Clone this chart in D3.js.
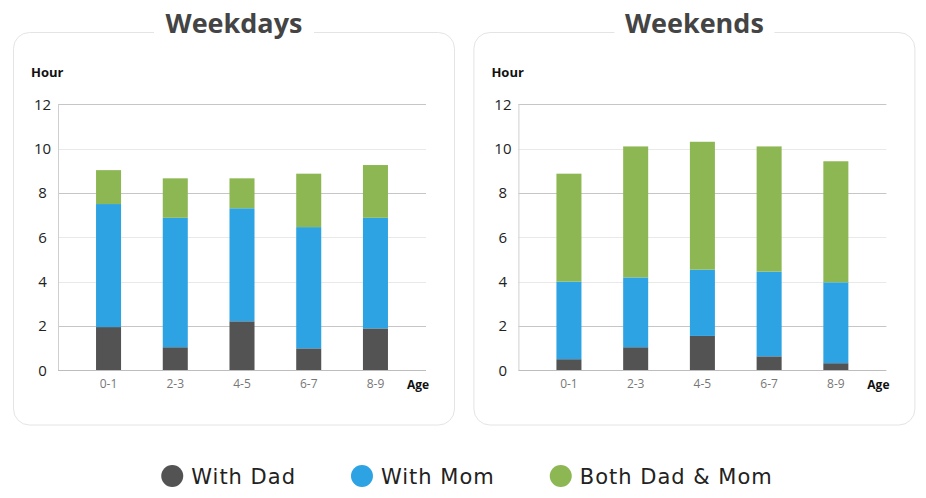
<!DOCTYPE html>
<html>
<head>
<meta charset="utf-8">
<script src="https://cdn.jsdelivr.net/npm/d3@7"></script>
<style>
  html, body { margin: 0; padding: 0; background: #fff; }
  svg { display: block; }
</style>
</head>
<body>
<svg id="chart" width="926" height="498"></svg>
<script>
// ---- data ----
const categories = ["0-1", "2-3", "4-5", "6-7", "8-9"];
const seriesNames = ["With Dad", "With Mom", "Both Dad & Mom"];
const weekdaysDad  = [1.95, 1.04, 2.21, 0.99, 1.89];
const weekdaysMom  = [5.55, 5.84, 5.10, 5.47, 4.99];
const weekdaysBoth = [1.53, 1.78, 1.35, 2.41, 2.38];
const weekendsDad  = [0.50, 1.04, 1.55, 0.63, 0.32];
const weekendsMom  = [3.50, 3.15, 2.99, 3.82, 3.65];
const weekendsBoth = [4.87, 5.91, 5.77, 5.65, 5.46];
const yTicks = [0, 2, 4, 6, 8, 10, 12];
const panelTitles = ["Weekdays", "Weekends"];
const yAxisTitle = "Hour";
const xAxisTitle = "Age";

// ---- styles ----
const colors = ["#535353", "#2ea3e3", "#8db753"];
const svg = d3.select("#chart");

const panels = [
  { title: panelTitles[0], series: [weekdaysDad, weekdaysMom, weekdaysBoth], dx: 0 },
  { title: panelTitles[1], series: [weekendsDad, weekendsMom, weekendsBoth], dx: 460.4 }
];

const y = d3.scaleLinear().domain([0, 12]).range([370.3, 104.3]);
const strongGrid = new Set([2, 8, 12]);

panels.forEach(p => {
  const g = svg.append("g").attr("transform", `translate(${p.dx},0)`);

  // panel box
  g.append("rect")
    .attr("x", 13.5).attr("y", 32.5).attr("width", 441).attr("height", 392.5)
    .attr("rx", 16).attr("ry", 16)
    .attr("fill", "#fff").attr("stroke", "#e4e4e4").attr("stroke-width", 1);

  // title
  const tcx = 234;
  g.append("rect")
    .attr("x", tcx - 80).attr("y", 20).attr("width", 160).attr("height", 20)
    .attr("fill", "#fff");
  g.append("text")
    .attr("x", tcx).attr("y", 33)
    .attr("text-anchor", "middle")
    .attr("font-family", "'Open Sans', sans-serif")
    .attr("font-weight", 700)
    .attr("font-size", 27)
    .attr("fill", "#444")
    .text(p.title);

  const x = d3.scaleBand().domain(categories).range([58, 426])
    .paddingInner(0.625).paddingOuter(0.57);

  // gridlines
  g.append("g").selectAll("line").data(yTicks.filter(t => t > 0)).join("line")
    .attr("x1", 58).attr("x2", 426)
    .attr("y1", d => Math.round(y(d)) + 0.5).attr("y2", d => Math.round(y(d)) + 0.5)
    .attr("stroke", d => strongGrid.has(d) ? "#c6c6c6" : "#e9e9e9")
    .attr("stroke-width", 1);

  // y axis (labels only through d3 axis)
  const yAxis = d3.axisLeft(y).tickValues(yTicks).tickSize(0).tickPadding(0);
  const ya = g.append("g").attr("transform", "translate(58,0)").call(yAxis);
  ya.select(".domain").remove();
  ya.selectAll("text")
    .attr("x", -15.5)
    .attr("text-anchor", "middle")
    .attr("font-family", "'Open Sans', sans-serif")
    .attr("font-size", 15)
    .attr("fill", "#222");

  // vertical axis line
  g.append("line")
    .attr("x1", 58.5).attr("x2", 58.5).attr("y1", y(12)).attr("y2", y(0))
    .attr("stroke", "#cfcfcf");

  // stacked bars
  const rows = categories.map((c, i) => {
    const r = { cat: c };
    seriesNames.forEach((s, k) => r[s] = p.series[k][i]);
    return r;
  });
  const stacked = d3.stack().keys(seriesNames)(rows);
  g.append("g").selectAll("g").data(stacked).join("g")
    .attr("fill", (d, i) => colors[i])
    .selectAll("rect").data(d => d).join("rect")
    .attr("x", d => x(d.data.cat))
    .attr("width", x.bandwidth())
    .attr("y", d => y(d[1]))
    .attr("height", d => y(d[0]) - y(d[1]));

  // baseline
  g.append("line")
    .attr("x1", 58).attr("x2", 426)
    .attr("y1", Math.round(y(0)) + 0.5).attr("y2", Math.round(y(0)) + 0.5)
    .attr("stroke", "#bdbdbd");

  // x axis labels
  const xAxis = d3.axisBottom(x).tickSize(0).tickPadding(0);
  const xa = g.append("g").attr("transform", `translate(0,${y(0)})`).call(xAxis);
  xa.select(".domain").remove();
  xa.selectAll("text")
    .attr("dy", 0).attr("y", 18)
    .attr("font-family", "'Open Sans', sans-serif")
    .attr("font-size", 12)
    .attr("fill", "#777");

  // axis titles
  g.append("text")
    .attr("x", 31).attr("y", 76.5)
    .attr("font-family", "'Open Sans', sans-serif")
    .attr("font-weight", 700).attr("font-size", 13)
    .attr("fill", "#111")
    .text(yAxisTitle);
  g.append("text")
    .attr("x", 418).attr("y", 388.5)
    .attr("text-anchor", "middle")
    .attr("font-family", "'Open Sans', sans-serif")
    .attr("font-weight", 700).attr("font-size", 12)
    .attr("fill", "#111")
    .text(xAxisTitle);
});

// legend
const legend = svg.append("g");
const items = legend.selectAll("g").data(seriesNames).join("g");
items.append("circle").attr("r", 11).attr("cx", 0).attr("cy", 476)
  .attr("fill", (d, i) => colors[i]);
items.append("text").attr("x", 19).attr("y", 483.5)
  .attr("font-family", "'DejaVu Sans', sans-serif")
  .attr("font-size", 21)
  .attr("letter-spacing", 1)
  .attr("fill", "#222")
  .text(d => d);
let cursor = 0;
const gap = 55;
items.each(function () {
  const w = this.getBBox().width;
  d3.select(this).attr("data-w", w);
});
items.attr("transform", function () {
  const w = +this.getAttribute("data-w");
  const tx = cursor + 11;
  cursor += w + gap;
  return `translate(${tx},0)`;
});
const total = cursor - gap;
legend.attr("transform", `translate(${467 - total / 2},0)`);
</script>
</body>
</html>
